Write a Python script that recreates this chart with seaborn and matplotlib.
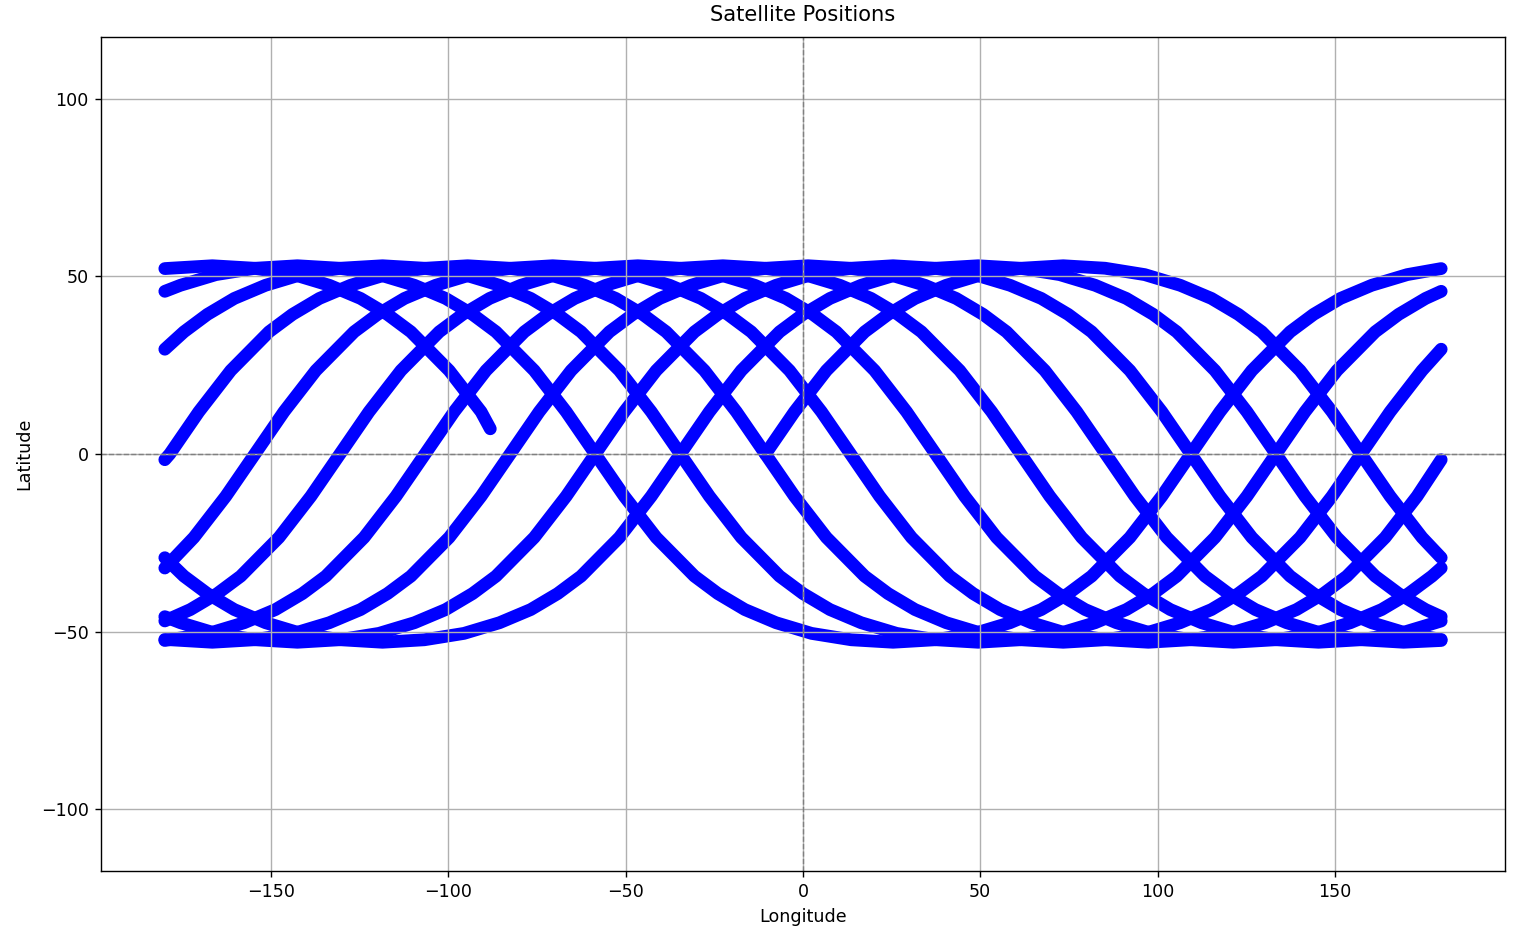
import pandas as pd
import matplotlib
matplotlib.use("Agg")
import matplotlib.pyplot as plt
import seaborn as sns

# ground track, split where it wraps at +/-180 longitude
lon_1 = [-10.6, -2.4, 6.6, 17.4, 24.0, 31.6, 40.4, 50.4, 61.6, 73.4, 85.2, 96.4, 106.4, 115.2, 122.8, 129.4,
         140.2, 149.2, 157.4, 165.6, 174.6, 180]
lat_1 = [0, 11.9, 23.5, 34.4, 39.3, 43.8, 47.5, 50.5, 52.3, 53.0, 52.3, 50.5, 47.5, 43.8, 39.3, 34.4,
         23.5, 11.9, 0, -11.9, -23.5, -29.2]

lon_2 = [-180, -174.6, -168.0, -160.4, -151.6, -141.6, -130.4, -118.6, -106.8, -95.6, -85.6, -76.8, -69.2, -62.6,
         -51.8, -42.8, -34.6, -26.4, -17.4, -6.6, 0.0, 7.6, 16.4, 26.4, 37.6, 49.4, 61.2, 72.4, 82.4, 91.2,
         98.8, 105.4, 116.2, 125.2, 133.4, 141.6, 150.6, 161.4, 168.0, 175.6, 180]
lat_2 = [-29.2, -34.4, -39.3, -43.8, -47.5, -50.5, -52.3, -53.0, -52.3, -50.5, -47.5, -43.8, -39.3, -34.4,
         -23.5, -11.9, 0, 11.9, 23.5, 34.4, 39.3, 43.8, 47.5, 50.5, 52.3, 53.0, 52.3, 50.5, 47.5, 43.8,
         39.3, 34.4, 23.5, 11.9, 0, -11.9, -23.5, -34.4, -39.3, -43.8, -45.8]

lon_3 = [-180, -175.6, -165.6, -154.4, -142.6, -130.8, -119.6, -109.6, -100.8, -93.2, -86.6, -75.8, -66.8,
         -58.6, -50.4, -41.4, -30.6, -24.0, -16.4, -7.6, 2.4, 13.6, 25.4, 37.2, 48.4, 58.4, 67.2, 74.8, 81.4,
         92.2, 101.2, 109.4, 117.6, 126.6, 137.4, 144.0, 151.6, 160.4, 170.4, 180]
lat_3 = [-45.8, -47.5, -50.5, -52.3, -53.0, -52.3, -50.5, -47.5, -43.8, -39.3, -34.4, -23.5, -11.9,
         0, 11.9, 23.5, 34.4, 39.3, 43.8, 47.5, 50.5, 52.3, 53.0, 52.3, 50.5, 47.5, 43.8, 39.3, 34.4,
         23.5, 11.9, 0, -11.9, -23.5, -34.4, -39.3, -43.8, -47.5, -50.5, -52.2]

lon_4 = [-180, -178.4, -166.6, -154.8, -143.6, -133.6, -124.8, -117.2, -110.6, -99.8, -90.8,
         -82.6, -74.4, -65.4, -54.6, -48.0, -40.4, -31.6, -21.6, -10.4, 1.4, 13.2, 24.4, 34.4, 43.2, 50.8,
         57.4, 68.2, 77.2, 85.4, 93.6, 102.6, 113.4, 120.0, 127.6, 136.4, 146.4, 157.6, 169.4, 180]
lat_4 = [-52.2, -52.3, -53.0, -52.3, -50.5, -47.5, -43.8, -39.3, -34.4, -23.5, -11.9,
         0, 11.9, 23.5, 34.4, 39.3, 43.8, 47.5, 50.5, 52.3, 53.0, 52.3, 50.5, 47.5, 43.8, 39.3,
         34.4, 23.5, 11.9, 0, -11.9, -23.5, -34.4, -39.3, -43.8, -47.5, -50.5, -52.3, -53.0, -52.5]

lon_5 = [-180, -178.8, -167.6, -157.6, -148.8, -141.2, -134.6, -123.8, -114.8,
         -106.6, -98.4, -89.4, -78.6, -72.0, -64.4, -55.6, -45.6, -34.4, -22.6, -10.8, 0.4, 10.4, 19.2, 26.8,
         33.4, 44.2, 53.2, 61.4, 69.6, 78.6, 89.4, 96.0, 103.6, 112.4, 122.4, 133.6, 145.4, 157.2, 168.4,
         178.4, 180]
lat_5 = [-52.5, -52.3, -50.5, -47.5, -43.8, -39.3, -34.4, -23.5, -11.9,
         0, 11.9, 23.5, 34.4, 39.3, 43.8, 47.5, 50.5, 52.3, 53.0, 52.3, 50.5, 47.5, 43.8, 39.3,
         34.4, 23.5, 11.9, 0, -11.9, -23.5, -34.4, -39.3, -43.8, -47.5, -50.5, -52.3, -53.0, -52.3, -50.5,
         -47.5, -47.0]

lon_6 = [-180, -172.8, -165.2, -158.6, -147.8, -138.8,
         -130.6, -122.4, -113.4, -102.6, -96.0, -88.4, -79.6, -69.6, -58.4, -46.6, -34.8, -23.6, -13.6, -4.8,
         2.8, 9.4, 20.2, 29.2, 37.4, 45.6, 54.6, 65.4, 72.0, 79.6, 88.4, 98.4, 109.6, 121.4, 133.2, 144.4,
         154.4, 163.2, 170.8, 177.4, 180]
lat_6 = [-47.0, -43.8, -39.3, -34.4, -23.5, -11.9,
         0, 11.9, 23.5, 34.4, 39.3, 43.8, 47.5, 50.5, 52.3, 53.0, 52.3, 50.5, 47.5, 43.8,
         39.3, 34.4, 23.5, 11.9, 0, -11.9, -23.5, -34.4, -39.3, -43.8, -47.5, -50.5, -52.3, -53.0, -52.3, -50.5,
         -47.5, -43.8, -39.3, -34.4, -32.1]

lon_7 = [-180, -171.8, -162.8,
         -154.6, -146.4, -137.4, -126.6, -120.0, -112.4, -103.6, -93.6, -82.4, -70.6, -58.8, -47.6, -37.6,
         -28.8, -21.2, -14.6, -3.8, 5.2, 13.4, 21.6, 30.6, 41.4, 48.0, 55.6, 64.4, 74.4, 85.6, 97.4, 109.2,
         120.4, 130.4, 139.2, 146.8, 153.4, 164.2, 173.2, 180]
lat_7 = [-32.1, -23.5, -11.9,
         0, 11.9, 23.5, 34.4, 39.3, 43.8, 47.5, 50.5, 52.3, 53.0, 52.3, 50.5, 47.5,
         43.8, 39.3, 34.4, 23.5, 11.9, 0, -11.9, -23.5, -34.4, -39.3, -43.8, -47.5, -50.5, -52.3, -53.0, -52.3,
         -50.5, -47.5, -43.8, -39.3, -34.4, -23.5, -11.9, -1.6]

lon_8 = [-180, -178.6, -170.4, -161.4, -150.6, -144.0, -136.4, -127.6, -117.6, -106.4, -94.6, -82.8, -71.6,
         -61.6, -52.8, -45.2, -38.6, -27.8, -18.8, -10.6, -2.4, 6.6, 17.4, 24.0, 31.6, 40.4, 50.4, 61.6, 73.4,
         85.2, 96.4, 106.4, 115.2, 122.8, 129.4, 140.2, 149.2, 157.4, 165.6, 174.6, 180]
lat_8 = [-1.6, 0, 11.9, 23.5, 34.4, 39.3, 43.8, 47.5, 50.5, 52.3, 53.0, 52.3, 50.5,
         47.5, 43.8, 39.3, 34.4, 23.5, 11.9, 0, -11.9, -23.5, -34.4, -39.3, -43.8, -47.5, -50.5, -52.3, -53.0,
         -52.3, -50.5, -47.5, -43.8, -39.3, -34.4, -23.5, -11.9, 0, 11.9, 23.5, 29.5]

lon_9 = [-180, -174.6, -168.0, -160.4, -151.6, -141.6, -130.4, -118.6, -106.8, -95.6, -85.6, -76.8, -69.2,
         -62.6, -51.8, -42.8, -34.6, -26.4, -17.4, -6.6, 0.0, 7.6, 16.4, 26.4, 37.6, 49.4, 61.2, 72.4, 82.4,
         91.2, 98.8, 105.4, 116.2, 125.2, 133.4, 141.6, 150.6, 161.4, 168.0, 175.6, 180]
lat_9 = [29.5, 34.4, 39.3, 43.8, 47.5, 50.5, 52.3, 53.0, 52.3, 50.5, 47.5, 43.8, 39.3,
         34.4, 23.5, 11.9, 0, -11.9, -23.5, -34.4, -39.3, -43.8, -47.5, -50.5, -52.3, -53.0, -52.3, -50.5, -47.5,
         -43.8, -39.3, -34.4, -23.5, -11.9, 0, 11.9, 23.5, 34.4, 39.3, 43.8, 45.8]

lon_10 = [-180, -175.6, -165.6, -154.4, -142.6, -130.8, -119.6, -109.6, -100.8, -93.2, -86.6, -75.8, -66.8,
          -58.6, -50.4, -41.4, -30.6, -24.0, -16.4, -7.6, 2.4, 13.6, 25.4, 37.2, 48.4, 58.4, 67.2, 74.8, 81.4,
          92.2, 101.2, 109.4, 117.6, 126.6, 137.4, 144.0, 151.6, 160.4, 170.4, 180]
lat_10 = [45.8, 47.5, 50.5, 52.3, 53.0, 52.3, 50.5, 47.5, 43.8, 39.3, 34.4, 23.5, 11.9,
          0, -11.9, -23.5, -34.4, -39.3, -43.8, -47.5, -50.5, -52.3, -53.0, -52.3, -50.5, -47.5, -43.8, -39.3, -34.4,
          -23.5, -11.9, 0, 11.9, 23.5, 34.4, 39.3, 43.8, 47.5, 50.5, 52.2]

lon_11 = [-180, -178.4, -166.6, -154.8, -143.6, -133.6, -124.8, -117.2, -110.6, -99.8, -90.8, -88.2]
lat_11 = [52.2, 52.3, 53.0, 52.3, 50.5, 47.5, 43.8, 39.3, 34.4, 23.5, 11.9, 7.1]

passes = [(lon_1, lat_1), (lon_2, lat_2), (lon_3, lat_3), (lon_4, lat_4), (lon_5, lat_5), (lon_6, lat_6),
          (lon_7, lat_7), (lon_8, lat_8), (lon_9, lat_9), (lon_10, lat_10), (lon_11, lat_11)]

frames = []
for i, (lo, la) in enumerate(passes, start=1):
    frames.append(pd.DataFrame({'Longitude': lo, 'Latitude': la, 'pass': i}))
df = pd.concat(frames, ignore_index=True)

dpi = 126
fig = plt.figure(figsize=(1514 / dpi, 926 / dpi), dpi=dpi)
ax = fig.add_axes([101 / 1514, 55 / 926, 1404 / 1514, 834 / 926])

sns.lineplot(data=df, x='Longitude', y='Latitude', units='pass', estimator=None, sort=False,
             color='blue', linewidth=7.3, solid_capstyle='round', solid_joinstyle='round',
             zorder=1, ax=ax)

ax.axhline(0, color='gray', linestyle='--', linewidth=0.8)
ax.axvline(0, color='gray', linestyle='--', linewidth=0.8)
ax.grid(True)
ax.set_xlim(-198, 198)
ax.set_ylim(-117.4, 117.4)
ax.set_xticks([-150, -100, -50, 0, 50, 100, 150])
ax.set_yticks([-100, -50, 0, 50, 100])
ax.set_title('Satellite Positions', pad=9)
ax.set_xlabel('Longitude')
ax.set_ylabel('Latitude')

fig.savefig('out.png', dpi=dpi)
